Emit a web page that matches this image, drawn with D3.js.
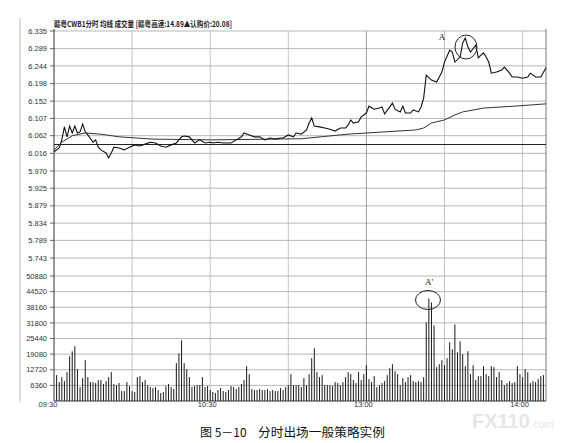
<!DOCTYPE html>
<html><head><meta charset="utf-8">
<script src="https://cdn.jsdelivr.net/npm/d3@7/dist/d3.min.js"></script>
<style>body{margin:0;background:#fff}svg{display:block}</style>
</head><body><svg id="c" width="566" height="443"></svg>
<script>
// ---- data ----
const priceMinutes = [0,2,3,4,5,6,7,8,9,10,11,12,13,15,16,17,18,20,21,22,23,25,27,29,31,33,35,37,39,41,43,45,47,48,49,50,52,54,56,58,60,61,63,65,67,68,70,72,73,75,77,79,81,83,85,87,88,90,92,93,95,97,98,99,100,102,104,106,108,110,112,113,114,115,117,118,120,121,123,125,126,127,129,130,131,133,134,135,137,138,140,141,142,143,145,147,148,149,150,152,153,154,156,157,158,159,160,162,163,164,165,166,167,168,170,172,173,175,176,178,180,182,183,185,187,189];
const prices = [6.020,6.030,6.051,6.085,6.059,6.087,6.069,6.087,6.069,6.072,6.092,6.072,6.064,6.045,6.051,6.032,6.025,6.017,6.004,6.017,6.032,6.030,6.025,6.032,6.038,6.035,6.040,6.045,6.043,6.035,6.032,6.038,6.043,6.051,6.059,6.061,6.059,6.043,6.051,6.043,6.045,6.043,6.045,6.043,6.043,6.043,6.051,6.059,6.069,6.064,6.059,6.059,6.051,6.056,6.053,6.056,6.056,6.064,6.059,6.069,6.066,6.077,6.095,6.108,6.087,6.085,6.082,6.079,6.074,6.082,6.082,6.090,6.103,6.095,6.098,6.111,6.121,6.139,6.131,6.134,6.137,6.119,6.137,6.147,6.131,6.124,6.139,6.121,6.121,6.129,6.124,6.137,6.160,6.220,6.207,6.202,6.215,6.228,6.254,6.285,6.280,6.254,6.267,6.304,6.317,6.293,6.280,6.298,6.265,6.272,6.278,6.267,6.254,6.225,6.228,6.233,6.241,6.225,6.215,6.215,6.212,6.215,6.225,6.215,6.215,6.239];
const avgMinutes = [0,3,7,12,18,25,38,60,95,113,139,142,145,150,154,157,165,177,189];
const avgPrices  = [6.025,6.045,6.062,6.069,6.066,6.059,6.053,6.051,6.054,6.066,6.077,6.082,6.095,6.103,6.116,6.124,6.134,6.139,6.145];
// one bar per minute, from 09:31
const volumes = [10530,7695,9720,8100,11745,18225,20250,22275,12960,5670,9315,16605,9720,7695,7695,7290,8505,8505,6885,8100,9720,11745,6885,6480,7290,4050,4050,7695,6075,4050,3645,9720,10125,7695,8505,6480,5670,5265,5670,4455,3240,3645,6075,6885,5670,
4860,15390,19440,24705,15390,12960,9720,5670,6075,6480,6480,9720,5670,6075,4455,3645,3240,4455,5265,4050,3645,4455,6075,5670,4860,5670,6885,8505,14175,10935,4860,4455,4455,4860,4455,4455,4860,4050,4455,4050,4050,5265,4455,5670,6480,10935,6480,6480,
6480,5670,9315,6480,10935,17415,21465,11745,9720,10530,6480,6480,6480,6075,7695,7290,6480,7695,9720,11745,10935,8505,7290,11745,8505,10935,14580,8910,7695,10125,5670,6480,7290,8100,10530,13365,14985,12150,10935,6480,9315,7695,9720,10530,8100,7695,8100,7695,9720,
31995,41715,40095,30780,13770,14985,16605,14580,17415,23895,21060,31185,19845,24300,19035,14175,20250,10935,14580,8505,10125,10125,14175,10935,10125,14175,13770,9720,11745,8505,6480,7290,8100,7290,7695,14175,10935,9720,12960,11745,7290,8100,7695,8910,10125,10530];
const priceTickLabels = ["6.335","6.289","6.244","6.198","6.152","6.107","6.062","6.016","5.970","5.925","5.879","5.834","5.789","5.743"];
const volTickValues = [50880,44520,38160,31800,25440,19080,12720,6360];
const timeLabels = ["09:30","10:30","13:00","14:00"];
const timeLabelMinutes = [0,60,120,180];
const gridMinutes = [30,60,90,120,150,180];
const prevClose = 6.039;
const headerText = "赣粤CWB1分时 均线 成交量 [赣粤高速:14.89▲认购价:20.08]";
const captionNo = "图 5－10";
const captionText = "分时出场一般策略实例";

// ---- drawing ----
const svg = d3.select("#c");
const L = 54, R = 546, PT = 31, PB = 258, VT = 276, VB = 401;
const x = d3.scaleLinear().domain([0, 189]).range([L, R]);
const yP = d3.scaleLinear().domain([5.743, 6.335]).range([PB, PT]);
const yV = d3.scaleLinear().domain([0, 50880]).range([VB, VT]);
const font = "'Liberation Sans', Arial, sans-serif";

svg.append("rect").attr("width",566).attr("height",443).attr("fill","#fff");

// watermark (drawn first, faint)
const wm = svg.append("text").attr("x",472).attr("y",428).attr("font-family","'Liberation Sans', Arial, sans-serif")
  .attr("fill","#e6e6e6").attr("font-weight","bold");
wm.append("tspan").attr("font-size",20).text("FX110");
wm.append("tspan").attr("font-size",11).attr("font-weight","normal").text(".com");

// outer left line of the window
svg.append("line").attr("x1",20).attr("x2",20).attr("y1",18).attr("y2",402)
  .attr("stroke","#bbb").attr("stroke-width",1);

const g = svg.append("g");
g.selectAll(".hp").data(priceTickLabels).join("line")
  .attr("x1",L).attr("x2",R)
  .attr("y1",d=>yP(+d)).attr("y2",d=>yP(+d))
  .attr("stroke","#9a9a9a").attr("stroke-width",0.7);
g.selectAll(".hv").data(volTickValues).join("line")
  .attr("x1",L).attr("x2",R)
  .attr("y1",d=>yV(d)).attr("y2",d=>yV(d))
  .attr("stroke","#9a9a9a").attr("stroke-width",0.7);
g.selectAll(".vg").data(gridMinutes).join("line")
  .attr("x1",d=>x(d)).attr("x2",d=>x(d)).attr("y1",PT).attr("y2",VB)
  .attr("stroke",d=>d===120?"#777":"#aaa").attr("stroke-width",0.7);

// frame
svg.append("line").attr("x1",L).attr("x2",L).attr("y1",PT-2).attr("y2",VB).attr("stroke","#333").attr("stroke-width",1);
svg.append("line").attr("x1",R).attr("x2",R).attr("y1",PT-2).attr("y2",VB).attr("stroke","#555").attr("stroke-width",0.8);
svg.append("line").attr("x1",L).attr("x2",R).attr("y1",VB).attr("y2",VB).attr("stroke","#333").attr("stroke-width",1);

// ticks + labels
const yTickG = svg.append("g").attr("font-family",font).attr("font-size",7.5).attr("fill","#333");
yTickG.selectAll("text.p").data(priceTickLabels).join("text")
  .attr("x",47).attr("y",d=>yP(+d)).attr("dy","0.35em").attr("text-anchor","end").text(d=>d);
yTickG.selectAll("text.v").data(volTickValues).join("text")
  .attr("x",47).attr("y",d=>yV(d)).attr("dy","0.35em").attr("text-anchor","end").text(d=>d);
svg.selectAll("line.tk").data(priceTickLabels.map(d=>yP(+d)).concat(volTickValues.map(d=>yV(d)))).join("line")
  .attr("x1",L-4).attr("x2",L).attr("y1",d=>d).attr("y2",d=>d).attr("stroke","#444").attr("stroke-width",0.8);

// time labels
svg.append("g").attr("font-family",font).attr("font-size",7.5).attr("fill","#333")
  .selectAll("text").data(timeLabels).join("text")
  .attr("x",(d,i)=> i===0 ? x(timeLabelMinutes[i])-6 : x(timeLabelMinutes[i])-3)
  .attr("y",407).attr("text-anchor","middle").text(d=>d);

// prev close line
svg.append("line").attr("x1",L).attr("x2",R).attr("y1",yP(prevClose)).attr("y2",yP(prevClose))
  .attr("stroke","#222").attr("stroke-width",1.1);

// volume bars
svg.append("g").selectAll("line").data(volumes).join("line")
  .attr("x1",(d,i)=>x(i+1)).attr("x2",(d,i)=>x(i+1))
  .attr("y1",VB).attr("y2",d=>yV(d))
  .attr("stroke","#1a1a1a").attr("stroke-width",1);

// average line
svg.append("path").datum(avgMinutes.map((m,i)=>[m,avgPrices[i]]))
  .attr("d",d3.line().x(d=>x(d[0])).y(d=>yP(d[1])))
  .attr("fill","none").attr("stroke","#333").attr("stroke-width",1);
// price line
svg.append("path").datum(priceMinutes.map((m,i)=>[m,prices[i]]))
  .attr("d",d3.line().x(d=>x(d[0])).y(d=>yP(d[1])))
  .attr("fill","none").attr("stroke","#111").attr("stroke-width",1.1);

// header
svg.append("text").attr("x",L).attr("y",27).attr("font-family","'Noto Sans CJK SC', sans-serif")
  .attr("font-size",8).attr("font-weight","bold").attr("fill","#222").attr("textLength",178).attr("lengthAdjust","spacingAndGlyphs")
  .text(headerText);

// annotations
svg.append("text").attr("x",442).attr("y",40).attr("font-family","'Liberation Serif', serif")
  .attr("font-size",9).attr("fill","#222").attr("text-anchor","middle").text("A");
svg.append("ellipse").attr("cx",466).attr("cy",47).attr("rx",11).attr("ry",12)
  .attr("fill","none").attr("stroke","#222").attr("stroke-width",1);
svg.append("text").attr("x",429).attr("y",285).attr("font-family","'Liberation Serif', serif")
  .attr("font-size",9).attr("fill","#222").attr("text-anchor","middle").text("A'");
svg.append("ellipse").attr("cx",428).attr("cy",300).attr("rx",12.5).attr("ry",9.5)
  .attr("fill","none").attr("stroke","#222").attr("stroke-width",1);

// caption
svg.append("text").attr("x",200).attr("y",437).attr("font-family","'Noto Sans CJK SC', sans-serif")
  .attr("font-size",12).attr("fill","#111").text(captionNo);
svg.append("text").attr("x",258).attr("y",437).attr("font-family","'Noto Sans CJK SC', sans-serif")
  .attr("font-size",12.5).attr("fill","#111").attr("textLength",127).attr("lengthAdjust","spacingAndGlyphs").text(captionText);
</script></body></html>
